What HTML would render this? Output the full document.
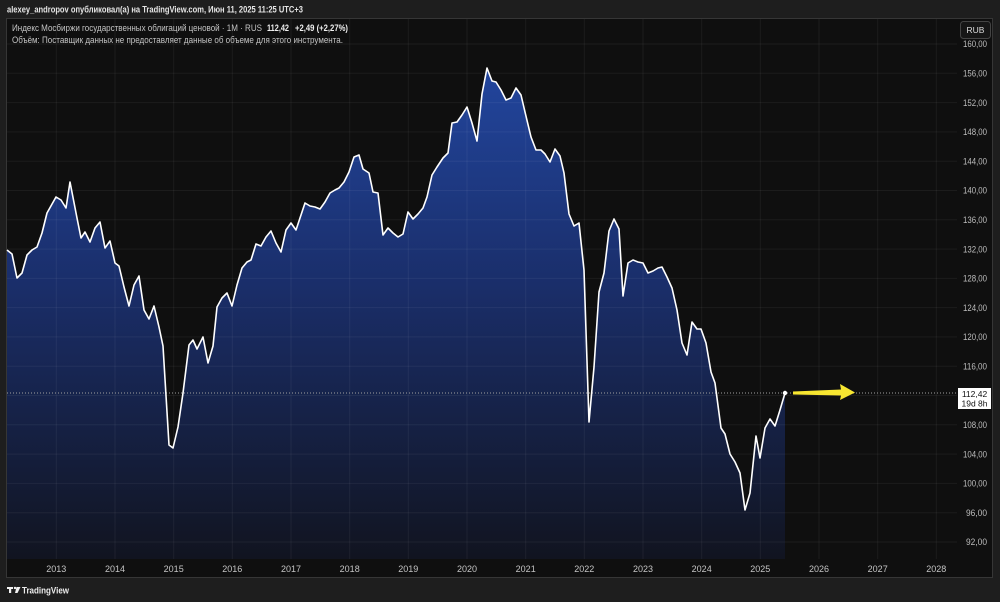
<!DOCTYPE html>
<html><head><meta charset="utf-8"><style>
html,body{margin:0;padding:0;background:#1e1e1e;}
svg{display:block;}
text{font-family:"Liberation Sans","Noto Sans CJK SC",sans-serif;}
</style></head><body>
<svg width="1000" height="602" viewBox="0 0 1000 602" xmlns="http://www.w3.org/2000/svg">
<defs>
<linearGradient id="g" gradientUnits="userSpaceOnUse" x1="0" y1="60" x2="0" y2="559">
<stop offset="0" stop-color="#22469f"/>
<stop offset="0.45" stop-color="#1a2e6a"/>
<stop offset="1" stop-color="#111420"/>
</linearGradient>
</defs>
<rect width="1000" height="602" fill="#1e1e1e"/>
<text x="7" y="12.5" font-size="9" font-weight="bold" fill="#e6e6e6" textLength="296" lengthAdjust="spacingAndGlyphs">alexey_andropov опубликовал(а) на TradingView.com, Июн 11, 2025 11:25 UTC+3</text>
<rect x="6.5" y="18.5" width="986" height="559" fill="#0f0f0f" stroke="#363636" stroke-width="1"/>
<polygon fill="url(#g)" points="7,559 7,250 12,254 17,278 22,273 27,255 32,250 37,247 42,233 47,213 56,197 61,200 66,208 70,182 77,218 81,238 85,232 90,242 95,228 100,222 105,248 110,241 115,263 119,266 124,287 129,306 134,285 139,276 144,310 149,319 154,306 159,327 163,346 169,445 173,448 178,427 183,393 189,345 193,340 197,349 203,337 208,363 213,346 217,307 222,298 227,293 232,306 237,285 242,268 247,262 251,260 256,244 261,246 266,237 271,231 276,243 281,252 286,230 291,223 296,230 301,215 305,203 310,206 315,207 320,209 325,202 330,193 335,190 339,188 344,182 349,172 354,157 359,155 363,169 369,173 373,192 378,193 383,235 388,228 393,233 398,237 403,234 408,212 413,219 418,214 423,208 427,197 432,175 437,167 443,158 448,153 452,123 457,122 462,115 467,107 472,123 477,141 482,94 487,68 492,81 496,82 501,90 506,100 511,98 516,88 521,95 525,112 531,137 536,150 541,150 545,154 550,162 555,149 560,156 564,173 569,214 574,226 579,223 584,270 589,422 594,367 599,292 604,273 609,231 614,219 619,229 623,296 628,263 633,260 638,262 643,263 648,273 653,271 658,268 662,267 667,277 672,288 677,310 682,343 687,355 692,322 697,329 701,329 706,343 711,372 715,383 721,428 725,434 730,454 735,462 740,473 745,510 750,493 756,436 760,458 765,428 770,419 775,426 780,410 785,393 785,559"/>
<g stroke="#ffffff" stroke-opacity="0.055" stroke-width="1">
<line x1="7" x2="957" y1="44" y2="44"/><line x1="7" x2="957" y1="73.3" y2="73.3"/><line x1="7" x2="957" y1="102.6" y2="102.6"/><line x1="7" x2="957" y1="131.9" y2="131.9"/><line x1="7" x2="957" y1="161.2" y2="161.2"/><line x1="7" x2="957" y1="190.5" y2="190.5"/><line x1="7" x2="957" y1="219.8" y2="219.8"/><line x1="7" x2="957" y1="249.1" y2="249.1"/><line x1="7" x2="957" y1="278.4" y2="278.4"/><line x1="7" x2="957" y1="307.6" y2="307.6"/><line x1="7" x2="957" y1="336.9" y2="336.9"/><line x1="7" x2="957" y1="366.2" y2="366.2"/><line x1="7" x2="957" y1="395.5" y2="395.5"/><line x1="7" x2="957" y1="424.8" y2="424.8"/><line x1="7" x2="957" y1="454.1" y2="454.1"/><line x1="7" x2="957" y1="483.4" y2="483.4"/><line x1="7" x2="957" y1="512.7" y2="512.7"/><line x1="7" x2="957" y1="542" y2="542"/>
<line y1="19" y2="559" x1="56.3" x2="56.3"/><line y1="19" y2="559" x1="115" x2="115"/><line y1="19" y2="559" x1="173.7" x2="173.7"/><line y1="19" y2="559" x1="232.3" x2="232.3"/><line y1="19" y2="559" x1="291" x2="291"/><line y1="19" y2="559" x1="349.7" x2="349.7"/><line y1="19" y2="559" x1="408.3" x2="408.3"/><line y1="19" y2="559" x1="467" x2="467"/><line y1="19" y2="559" x1="525.7" x2="525.7"/><line y1="19" y2="559" x1="584.3" x2="584.3"/><line y1="19" y2="559" x1="643" x2="643"/><line y1="19" y2="559" x1="701.7" x2="701.7"/><line y1="19" y2="559" x1="760.3" x2="760.3"/><line y1="19" y2="559" x1="819" x2="819"/><line y1="19" y2="559" x1="877.7" x2="877.7"/><line y1="19" y2="559" x1="936.3" x2="936.3"/>
</g>
<line x1="7" x2="957" y1="393" y2="393" stroke="#a0a0a0" stroke-width="1" stroke-dasharray="1,2"/>
<polyline fill="none" stroke="#ffffff" stroke-width="1.6" stroke-linejoin="round" points="7,250 12,254 17,278 22,273 27,255 32,250 37,247 42,233 47,213 56,197 61,200 66,208 70,182 77,218 81,238 85,232 90,242 95,228 100,222 105,248 110,241 115,263 119,266 124,287 129,306 134,285 139,276 144,310 149,319 154,306 159,327 163,346 169,445 173,448 178,427 183,393 189,345 193,340 197,349 203,337 208,363 213,346 217,307 222,298 227,293 232,306 237,285 242,268 247,262 251,260 256,244 261,246 266,237 271,231 276,243 281,252 286,230 291,223 296,230 301,215 305,203 310,206 315,207 320,209 325,202 330,193 335,190 339,188 344,182 349,172 354,157 359,155 363,169 369,173 373,192 378,193 383,235 388,228 393,233 398,237 403,234 408,212 413,219 418,214 423,208 427,197 432,175 437,167 443,158 448,153 452,123 457,122 462,115 467,107 472,123 477,141 482,94 487,68 492,81 496,82 501,90 506,100 511,98 516,88 521,95 525,112 531,137 536,150 541,150 545,154 550,162 555,149 560,156 564,173 569,214 574,226 579,223 584,270 589,422 594,367 599,292 604,273 609,231 614,219 619,229 623,296 628,263 633,260 638,262 643,263 648,273 653,271 658,268 662,267 667,277 672,288 677,310 682,343 687,355 692,322 697,329 701,329 706,343 711,372 715,383 721,428 725,434 730,454 735,462 740,473 745,510 750,493 756,436 760,458 765,428 770,419 775,426 780,410 785,393"/>
<circle cx="785" cy="393" r="2.2" fill="#ffffff"/>
<polygon fill="#f7e631" points="793,391.5 841,389.5 840,384 855,392.5 840,400 841,395.5 793,394.5"/>
<g font-size="9" fill="#c4c4c4">
<text x="12" y="31" textLength="250" lengthAdjust="spacingAndGlyphs">Индекс Мосбиржи государственных облигаций ценовой · 1M · RUS</text>
<text x="267" y="31" font-weight="bold" fill="#f0f0f0" textLength="22" lengthAdjust="spacingAndGlyphs">112,42</text>
<text x="295" y="31" font-weight="bold" fill="#f0f0f0" textLength="53" lengthAdjust="spacingAndGlyphs">+2,49 (+2,27%)</text>
<text x="12" y="43" textLength="331" lengthAdjust="spacingAndGlyphs">Объём: Поставщик данных не предоставляет данные об объеме для этого инструмента.</text>
</g>
<rect x="960.5" y="21.5" width="30" height="17" rx="3" fill="#161616" stroke="#444" stroke-width="1"/>
<text x="975.5" y="33" font-size="8.5" fill="#dcdcdc" text-anchor="middle">RUB</text>
<g font-size="9" fill="#bdbdbd">
<text x="963" y="47.2" textLength="24" lengthAdjust="spacingAndGlyphs">160,00</text>
<text x="963" y="76.5" textLength="24" lengthAdjust="spacingAndGlyphs">156,00</text>
<text x="963" y="105.8" textLength="24" lengthAdjust="spacingAndGlyphs">152,00</text>
<text x="963" y="135.1" textLength="24" lengthAdjust="spacingAndGlyphs">148,00</text>
<text x="963" y="164.4" textLength="24" lengthAdjust="spacingAndGlyphs">144,00</text>
<text x="963" y="193.7" textLength="24" lengthAdjust="spacingAndGlyphs">140,00</text>
<text x="963" y="223" textLength="24" lengthAdjust="spacingAndGlyphs">136,00</text>
<text x="963" y="252.3" textLength="24" lengthAdjust="spacingAndGlyphs">132,00</text>
<text x="963" y="281.6" textLength="24" lengthAdjust="spacingAndGlyphs">128,00</text>
<text x="963" y="310.8" textLength="24" lengthAdjust="spacingAndGlyphs">124,00</text>
<text x="963" y="340.1" textLength="24" lengthAdjust="spacingAndGlyphs">120,00</text>
<text x="963" y="369.4" textLength="24" lengthAdjust="spacingAndGlyphs">116,00</text>
<text x="963" y="428" textLength="24" lengthAdjust="spacingAndGlyphs">108,00</text>
<text x="963" y="457.3" textLength="24" lengthAdjust="spacingAndGlyphs">104,00</text>
<text x="963" y="486.6" textLength="24" lengthAdjust="spacingAndGlyphs">100,00</text>
<text x="966" y="515.9" textLength="21" lengthAdjust="spacingAndGlyphs">96,00</text>
<text x="966" y="545.2" textLength="21" lengthAdjust="spacingAndGlyphs">92,00</text>
</g>
<rect x="958" y="388" width="33" height="21" fill="#ffffff"/>
<text x="974.5" y="397" font-size="8.5" fill="#111" text-anchor="middle">112,42</text>
<text x="974.5" y="406.5" font-size="8.5" fill="#111" text-anchor="middle">19d 8h</text>
<g font-size="9" fill="#c4c4c4" text-anchor="middle">
<text x="56.3" y="572">2013</text><text x="115" y="572">2014</text><text x="173.7" y="572">2015</text><text x="232.3" y="572">2016</text><text x="291" y="572">2017</text><text x="349.7" y="572">2018</text><text x="408.3" y="572">2019</text><text x="467" y="572">2020</text><text x="525.7" y="572">2021</text><text x="584.3" y="572">2022</text><text x="643" y="572">2023</text><text x="701.7" y="572">2024</text><text x="760.3" y="572">2025</text><text x="819" y="572">2026</text><text x="877.7" y="572">2027</text><text x="936.3" y="572">2028</text>
</g>
<g fill="#f2f2f2">
<rect x="7" y="587" width="6" height="2"/><rect x="9" y="587" width="2.2" height="6"/>
<circle cx="15" cy="588" r="1.2"/>
<polygon points="16.5,587 20.5,587 17.5,593 15,593"/>
</g>
<text x="22" y="593.5" font-size="9" font-weight="bold" fill="#eeeeee" textLength="47" lengthAdjust="spacingAndGlyphs">TradingView</text>
</svg>
</body></html>
